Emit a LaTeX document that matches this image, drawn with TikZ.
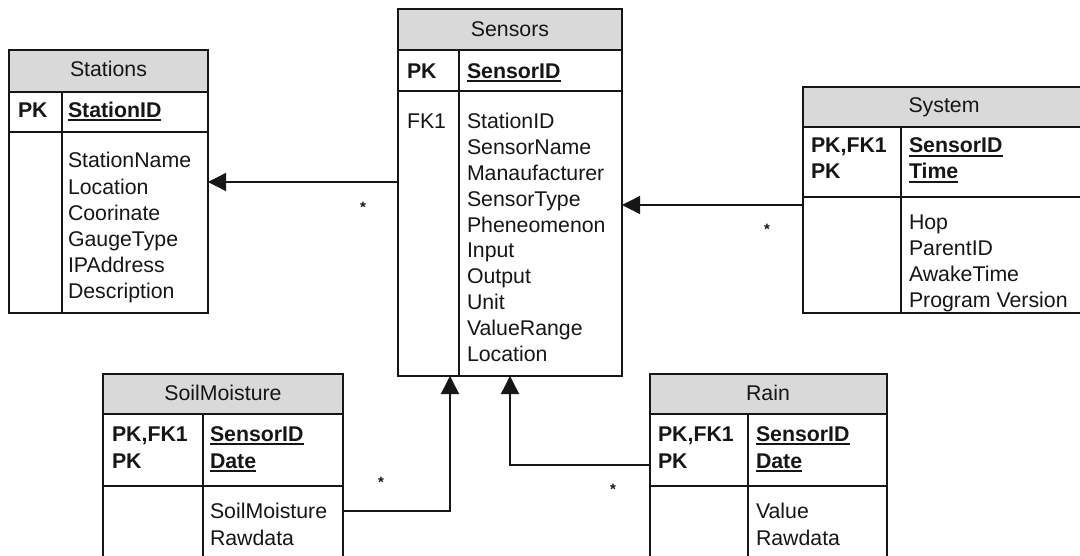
\documentclass[tikz,border=0pt]{standalone}
\usepackage{fontspec}
\setmainfont{Liberation Sans}
\usetikzlibrary{arrows.meta}
\definecolor{hdr}{RGB}{217,217,217}
\definecolor{ink}{RGB}{22,22,22}
\newcommand\ulb[1]{\setbox0\hbox{\bfseries #1}\rlap{\rule[-3.6pt]{\wd0}{1.8pt}}\box0}
% name, x1, y1, x2, y2, yheader, ypk, xdivider
\newcommand\erdtab[8]{%
  \fill[hdr] (#2,#3) rectangle (#4,#6);
  \node[tblbox, anchor=north west, minimum width={(#4-#2)*1pt}, minimum height={(#5-#3)*1pt}] (#1) at (#2,#3) {};
  \draw[tblline] (#2,#6) -- (#4,#6) (#2,#7) -- (#4,#7) (#8,#6) -- (#8,#5);
}
% name prefix, x, first baseline, step, list
\newcommand\tlines[5]{%
  \foreach \t [count=\i] in {#5} {\node[txt, anchor=base west] (#1\i) at (#2,{#3+(\i-1)*#4}) {\t};}
}
\tikzset{
  tblbox/.style={draw=ink, line width=1.4pt, inner sep=0pt, outer sep=0pt},
  tblline/.style={draw=ink, line width=1.4pt},
  txt/.style={inner sep=0pt, outer sep=0pt, text=ink, font=\fontsize{21.3}{26}\selectfont},
  mult/.style={inner sep=0pt, text=ink, font=\fontsize{15}{16}\selectfont\bfseries},
  conn/.style={draw=ink, line width=1.4pt, -{Triangle[length=18pt,width=18pt]}}
}
\begin{document}
\begin{tikzpicture}[x=1pt,y=-1pt]
\useasboundingbox (0,0) rectangle (1080,556);
\fill[white] (0,0) rectangle (1080,556);
\clip (0,0) rectangle (1080,556);

% Stations
\erdtab{stations}{9}{50}{208}{313}{92}{132}{62}
\node[txt, anchor=base] (stations-h) at (108.5,77) {Stations};
\node[txt, anchor=base west] (stations-pk) at (18,117.5) {\bfseries PK};
\node[txt, anchor=base west] (stations-id) at (68,117.5) {\ulb{StationID}};
\tlines{st}{68}{168}{26.2}{StationName,Location,Coorinate,GaugeType,IPAddress,Description}

% Sensors
\erdtab{sensors}{398}{9}{622}{376}{50}{91}{459}
\node[txt, anchor=base] (sensors-h) at (510,37) {Sensors};
\node[txt, anchor=base west] (sensors-pk) at (407,78.5) {\bfseries PK};
\node[txt, anchor=base west] (sensors-id) at (467,78.5) {\ulb{SensorID}};
\node[txt, anchor=base west] (sensors-fk) at (407,129) {FK1};
\tlines{se}{467}{129}{25.8}{StationID,SensorName,Manaufacturer,SensorType,Pheneomenon,Input,Output,Unit,ValueRange,Location}

% System
\erdtab{system}{803}{87}{1086}{313}{127}{197}{901}
\node[txt, anchor=base] (system-h) at (944,113) {System};
\tlines{sykey}{811}{153}{26}{{\bfseries PK,FK1},{\bfseries PK}}
\tlines{syid}{909}{153}{26}{{\ulb{SensorID}},{\ulb{Time}}}
\tlines{sy}{909}{230}{26}{Hop,ParentID,AwakeTime,Program Version}

% SoilMoisture
\erdtab{soil}{103}{374}{343}{600}{414}{486}{203}
\node[txt, anchor=base] (soil-h) at (223,400) {SoilMoisture};
\tlines{sokey}{112}{441}{27}{{\bfseries PK,FK1},{\bfseries PK}}
\tlines{soid}{210}{441}{27}{{\ulb{SensorID}},{\ulb{Date}}}
\tlines{so}{210}{518}{27}{SoilMoisture,Rawdata}

% Rain
\erdtab{rain}{650}{374}{887}{600}{414}{486}{748}
\node[txt, anchor=base] (rain-h) at (768,400) {Rain};
\tlines{rakey}{658}{441}{27}{{\bfseries PK,FK1},{\bfseries PK}}
\tlines{raid}{756}{441}{27}{{\ulb{SensorID}},{\ulb{Date}}}
\tlines{ra}{756}{518}{27}{Value,Rawdata}

% connectors
\draw[conn] (sensors.west |- 0,182) -- (stations.east |- 0,182);
\draw[conn] (system.west |- 0,205) -- (sensors.east |- 0,205);
\draw[conn] (soil.east |- 0,511) -| (sensors.south -| 450,0);
\draw[conn] (rain.west |- 0,465) -| (sensors.south -| 510,0);

% multiplicities
\node[mult] (m1) at (363,207) {*};
\node[mult] (m2) at (767,229) {*};
\node[mult] (m3) at (381,482) {*};
\node[mult] (m4) at (613,489) {*};
\end{tikzpicture}
\end{document}
